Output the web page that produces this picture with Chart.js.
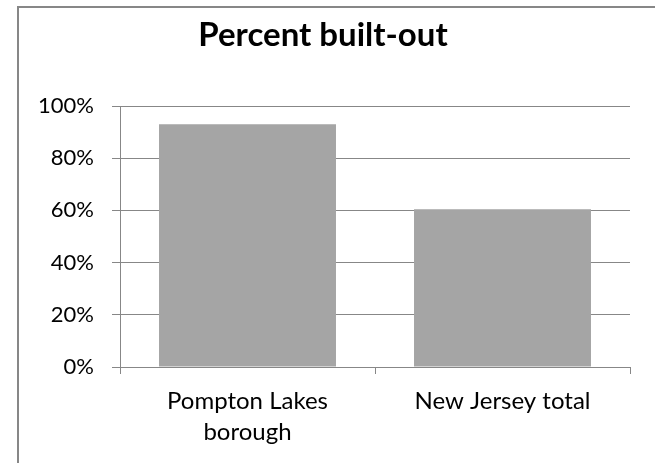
<!DOCTYPE html>
<html>
<head>
<meta charset="utf-8">
<script src="https://cdn.jsdelivr.net/npm/chart.js@4.4.1/dist/chart.umd.min.js"></script>
<style>
  html, body { margin: 0; padding: 0; background: #fff; }
  #wrap { position: relative; width: 655px; height: 463px; overflow: hidden; }
  #frame { position: absolute; left: 17px; top: 6px; width: 700px; height: 520px;
           border-top: 2px solid #878787; border-left: 2px solid #878787; }
  canvas { position: absolute; left: 0; top: 0; }
</style>
</head>
<body>
<div id="wrap">
  <div id="frame"></div>
  <canvas id="chart" width="655" height="463"></canvas>
</div>
<script>
// dados
const chartTitle = 'Percent built-out';
const categories = [['Pompton Lakes', 'borough'], 'New Jersey total'];
const builtOut = [93, 60.4];
const yTicks = [0, 20, 40, 60, 80, 100];

const gridColor = '#878787';
const fontFamily = 'Lato, "Open Sans", sans-serif';

// título desenhado à mão, fora do centro como no original
const titlePlugin = {
    id: 'titleText',
    afterDraw(chart) {
        const ctx = chart.ctx;
        ctx.save();
        ctx.font = 'bold 33px ' + fontFamily;
        ctx.fillStyle = '#000';
        ctx.textAlign = 'center';
        ctx.textBaseline = 'alphabetic';
        ctx.fillText(chartTitle, 323, 46);
        ctx.restore();
    }
};

new Chart(document.getElementById('chart'), {
    type: 'bar',
    data: {
        labels: categories,
        datasets: [{
            data: builtOut,
            backgroundColor: '#a5a5a5',
            borderWidth: 0,
            categoryPercentage: 1,
            barPercentage: 0.694
        }]
    },
    options: {
        responsive: false,
        animation: false,
        layout: { padding: { top: 106, right: 25, left: 0, bottom: 0 } },
        plugins: {
            legend: { display: false },
            title: { display: false },
            tooltip: { enabled: false }
        },
        scales: {
            x: {
                afterFit: (axis) => { axis.height = 96; },
                grid: {
                    offset: true,
                    drawOnChartArea: false,
                    color: gridColor,
                    tickLength: 7,
                    lineWidth: 1
                },
                border: { color: gridColor, width: 1 },
                ticks: {
                    color: '#000',
                    font: { family: fontFamily, size: 24, lineHeight: 1.32 },
                    padding: 11,
                    maxRotation: 0,
                    autoSkip: false
                }
            },
            y: {
                min: 0,
                max: 100,
                afterFit: (axis) => { axis.width = 120; },
                afterBuildTicks: (axis) => { axis.ticks = yTicks.map(v => ({ value: v })); },
                grid: {
                    color: gridColor,
                    tickLength: 8,
                    lineWidth: 1
                },
                border: { color: gridColor, width: 1 },
                ticks: {
                    color: '#000',
                    font: { family: fontFamily, size: 22 },
                    padding: 18,
                    callback: (v) => v + '%'
                }
            }
        }
    },
    plugins: [titlePlugin]
});
</script>
</body>
</html>
